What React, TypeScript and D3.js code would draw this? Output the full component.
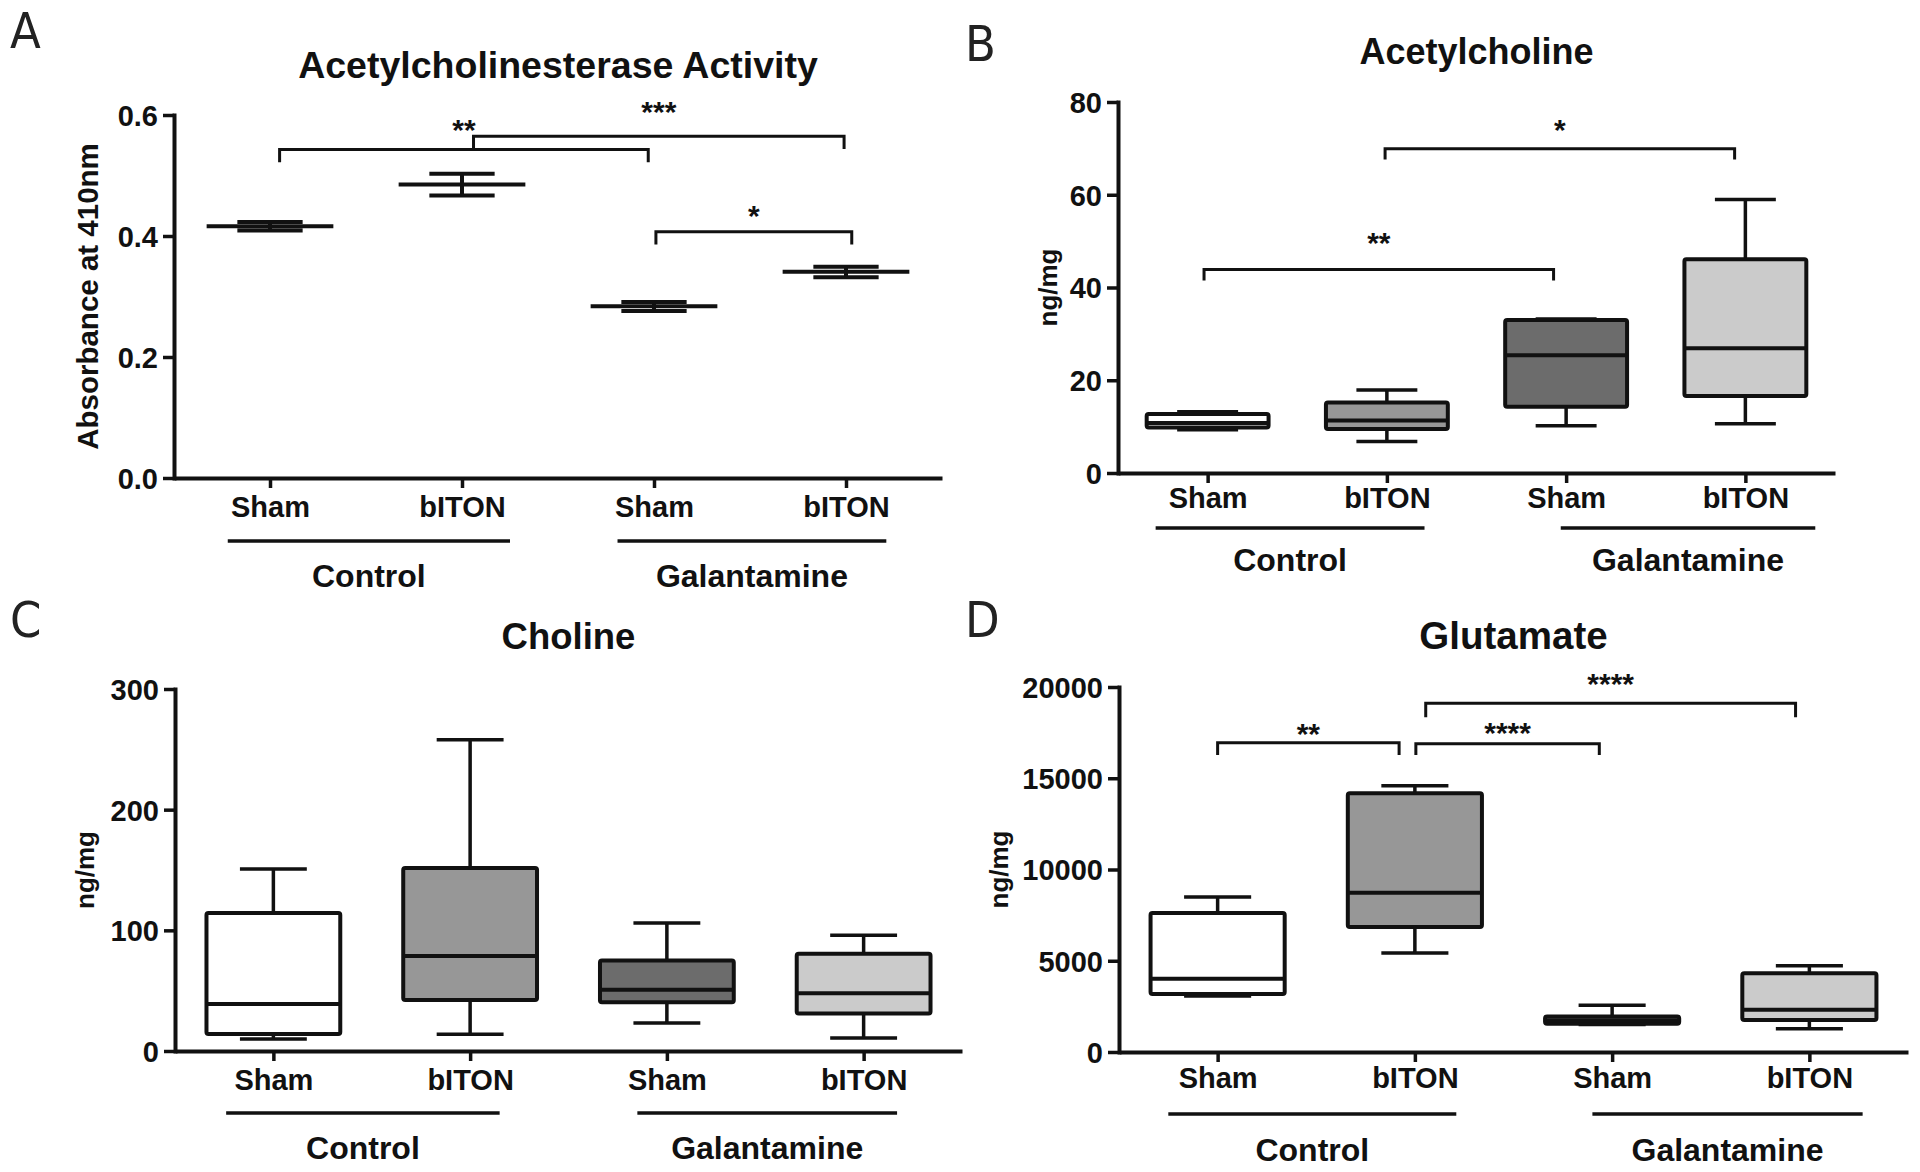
import { useEffect, useRef } from 'react';
import * as d3 from 'd3';

// ---- data ----
const conditions = ['Control Sham', 'Control bITON', 'Galantamine Sham', 'Galantamine bITON'];
const conditionLabels = ['Sham', 'bITON', 'Sham', 'bITON'];
const treatments = ['Control', 'Galantamine'];
const boxFills = ['#ffffff', '#979797', '#6c6c6c', '#cbcbcb'];

// A: acetylcholinesterase activity, mean with error bars
const acheMean = [0.416, 0.485, 0.284, 0.341];
const acheLow = [0.409, 0.467, 0.276, 0.332];
const acheHigh = [0.423, 0.503, 0.291, 0.349];
const acheTicks = [0, 0.2, 0.4, 0.6];

// B: acetylcholine (box plots)
const achWhiskerLow = [9.3, 6.8, 10.2, 10.6];
const achQ1 = [9.8, 9.5, 14.3, 16.6];
const achMedian = [10.8, 11.3, 25.4, 26.9];
const achQ3 = [12.7, 15.2, 33.0, 46.1];
const achWhiskerHigh = [13.2, 17.9, 33.2, 59.0];
const achTicks = [0, 20, 40, 60, 80];

// C: choline
const cholWhiskerLow = [9.9, 13.8, 23.3, 10.8];
const cholQ1 = [14.1, 42.3, 40.5, 31.0];
const cholMedian = [38.9, 78.7, 50.7, 47.8];
const cholQ3 = [114.4, 151.7, 75.0, 80.6];
const cholWhiskerHigh = [150.8, 258, 106, 96];
const cholTicks = [0, 100, 200, 300];

// D: glutamate
const gluWhiskerLow = [3070, 5430, 1510, 1270];
const gluQ1 = [3180, 6850, 1550, 1750];
const gluMedian = [4010, 8720, 1720, 2310];
const gluQ3 = [7610, 14180, 1940, 4320];
const gluWhiskerHigh = [8500, 14590, 2560, 4720];
const gluTicks = [0, 5000, 10000, 15000, 20000];

type Bracket = { from: number; to: number; y: number; tip: number; labelY: number; label: string; padL?: number; padR?: number };

const acheBrackets: Bracket[] = [
  { from: 0, to: 2, y: 0.543, tip: 0.522, labelY: 0.585, label: '**', padL: 0.05, padR: -0.03 },
  { from: 1, to: 3, y: 0.565, tip: 0.544, labelY: 0.615, label: '***', padL: 0.06, padR: -0.01 },
  { from: 2, to: 3, y: 0.407, tip: 0.386, labelY: 0.443, label: '*', padL: 0.01, padR: 0.03 },
];
const achBrackets: Bracket[] = [
  { from: 0, to: 2, y: 43.9, tip: 41.5, labelY: 50.9, label: '**', padL: -0.02, padR: -0.07 },
  { from: 1, to: 3, y: 69.9, tip: 67.6, labelY: 75.3, label: '*', padL: -0.01, padR: -0.06 },
];
const gluBrackets: Bracket[] = [
  { from: 0, to: 1, y: 16950, tip: 16270, labelY: 17750, label: '**', padL: 0, padR: -0.08 },
  { from: 1, to: 2, y: 16890, tip: 16270, labelY: 17824, label: '****', padL: 0.005, padR: -0.065 },
  { from: 1, to: 3, y: 19110, tip: 18340, labelY: 20518, label: '****', padL: 0.055, padR: -0.07 },
];

const FONT = "'Liberation Sans', Arial, Helvetica, sans-serif";
const INK = '#111111';

interface Panel {
  letter: string;
  letterX: number;
  letterY: number;
  title: string;
  titleY: number;
  titleSize: number;
  yLabel: string;
  yLabelX: number;
  yLabelSize: number;
  left: number;
  right: number;
  top: number;
  bottom: number;
  domain: [number, number];
  ticks: number[];
  fmt: (d: number) => string;
  tickLabelDy: number;
  groupLineDy: number;
  groupLabelDy: number;
  groupLines: [number, number][];
  brackets: Bracket[];
  mean?: { mean: number[]; low: number[]; high: number[] };
  box?: { wl: number[]; q1: number[]; med: number[]; q3: number[]; wh: number[] };
}

function drawPanel(svg: d3.Selection<SVGSVGElement, unknown, null, undefined>, p: Panel) {
  const g = svg.append('g');
  const x = d3.scalePoint<string>().domain(conditions).range([p.left, p.right]).padding(0.5);
  const y = d3.scaleLinear().domain(p.domain).range([p.bottom, p.top]);
  const step = x.step();
  const cx = (i: number) => x(conditions[i]) as number;

  // panel letter
  g.append('text')
    .attr('x', p.letterX)
    .attr('y', p.letterY)
    .attr('font-family', "'Liberation Sans Narrow', 'DejaVu Sans Condensed', sans-serif")
    .attr('font-size', 50)
    .attr('fill', '#222')
    .text(p.letter);

  // title
  g.append('text')
    .attr('x', (p.left + p.right) / 2)
    .attr('y', p.titleY)
    .attr('text-anchor', 'middle')
    .attr('font-family', FONT)
    .attr('font-weight', 'bold')
    .attr('font-size', p.titleSize)
    .attr('fill', INK)
    .text(p.title);

  // y label
  g.append('text')
    .attr('transform', `translate(${p.yLabelX},${(p.top + p.bottom) / 2}) rotate(-90)`)
    .attr('text-anchor', 'middle')
    .attr('dominant-baseline', 'central')
    .attr('font-family', FONT)
    .attr('font-weight', 'bold')
    .attr('font-size', p.yLabelSize)
    .attr('fill', INK)
    .text(p.yLabel);

  // axes
  const yAxis = g.append('g')
    .attr('transform', `translate(${p.left},0)`)
    .call(d3.axisLeft(y).tickValues(p.ticks).tickFormat((d) => p.fmt(d as number)).tickSize(11).tickSizeOuter(0).tickPadding(5));
  const xAxis = g.append('g')
    .attr('transform', `translate(0,${p.bottom})`)
    .call(d3.axisBottom(x).tickFormat((_, i) => conditionLabels[i]).tickSize(10).tickSizeOuter(0));

  [yAxis, xAxis].forEach((a) => {
    a.selectAll('.domain').attr('stroke', INK).attr('stroke-width', 4);
    a.selectAll('.tick line').attr('stroke', INK).attr('stroke-width', 3.5);
    a.selectAll('text')
      .attr('font-family', FONT)
      .attr('font-weight', 'bold')
      .attr('font-size', 29)
      .attr('fill', INK);
  });
  xAxis.selectAll('text').attr('y', p.tickLabelDy).attr('dy', 0);
  yAxis.selectAll('text').attr('dy', '0.36em');
  yAxis.select('.domain').attr('stroke-linecap', 'square');

  // group lines and labels
  treatments.forEach((t, k) => {
    const a = cx(k * 2) + p.groupLines[k][0] * step;
    const b = cx(k * 2 + 1) + p.groupLines[k][1] * step;
    g.append('line')
      .attr('x1', a).attr('x2', b)
      .attr('y1', p.bottom + p.groupLineDy).attr('y2', p.bottom + p.groupLineDy)
      .attr('stroke', INK).attr('stroke-width', 3.5);
    g.append('text')
      .attr('x', (a + b) / 2)
      .attr('y', p.bottom + p.groupLabelDy)
      .attr('text-anchor', 'middle')
      .attr('font-family', FONT)
      .attr('font-weight', 'bold')
      .attr('font-size', 32)
      .attr('fill', INK)
      .text(t);
  });

  const marks = g.append('g').attr('stroke', INK).attr('fill', 'none');

  if (p.box) {
    const b = p.box;
    conditions.forEach((_, i) => {
      const c = cx(i);
      const hw = 0.34 * step;
      const cw = 0.17 * step;
      // whiskers
      marks.append('path')
        .attr('d', `M${c},${y(b.q3[i])}V${y(b.wh[i])}M${c - cw},${y(b.wh[i])}H${c + cw}M${c},${y(b.q1[i])}V${y(b.wl[i])}M${c - cw},${y(b.wl[i])}H${c + cw}`)
        .attr('stroke-width', 3.5);
      // box
      marks.append('rect')
        .attr('x', c - hw)
        .attr('y', y(b.q3[i]))
        .attr('width', 2 * hw)
        .attr('height', y(b.q1[i]) - y(b.q3[i]))
        .attr('rx', 2)
        .attr('fill', boxFills[i])
        .attr('stroke-width', 4);
      // median
      marks.append('line')
        .attr('x1', c - hw).attr('x2', c + hw)
        .attr('y1', y(b.med[i])).attr('y2', y(b.med[i]))
        .attr('stroke-width', 4);
    });
  }

  if (p.mean) {
    const m = p.mean;
    conditions.forEach((_, i) => {
      const c = cx(i);
      const mw = 0.33 * step;
      const cw = 0.17 * step;
      marks.append('path')
        .attr('d', `M${c},${y(m.low[i])}V${y(m.high[i])}M${c - cw},${y(m.low[i])}H${c + cw}M${c - cw},${y(m.high[i])}H${c + cw}M${c - mw},${y(m.mean[i])}H${c + mw}`)
        .attr('stroke-width', 4);
    });
  }

  // significance brackets
  p.brackets.forEach((br) => {
    const a = cx(br.from) + (br.padL ?? 0) * step;
    const b = cx(br.to) + (br.padR ?? 0) * step;
    marks.append('path')
      .attr('d', `M${a},${y(br.tip)}V${y(br.y)}H${b}V${y(br.tip)}`)
      .attr('stroke-width', 3);
    g.append('text')
      .attr('x', (a + b) / 2)
      .attr('y', y(br.labelY) + 16)
      .attr('text-anchor', 'middle')
      .attr('font-family', FONT)
      .attr('font-weight', 'bold')
      .attr('font-size', 30)
      .attr('fill', INK)
      .text(br.label);
  });
}

const panels: Panel[] = [
  {
    letter: 'A', letterX: 10, letterY: 48,
    title: 'Acetylcholinesterase Activity', titleY: 78, titleSize: 37.5,
    yLabel: 'Absorbance at 410nm', yLabelX: 87, yLabelSize: 29.5,
    left: 174, right: 942, top: 115, bottom: 478,
    domain: [0, 0.6], ticks: acheTicks, fmt: d3.format('.1f'),
    tickLabelDy: 39, groupLineDy: 63, groupLabelDy: 109,
    groupLines: [[-0.22, 0.25], [-0.19, 0.21]],
    brackets: acheBrackets,
    mean: { mean: acheMean, low: acheLow, high: acheHigh },
  },
  {
    letter: 'B', letterX: 965, letterY: 61,
    title: 'Acetylcholine', titleY: 64, titleSize: 36,
    yLabel: 'ng/mg', yLabelX: 1048, yLabelSize: 26,
    left: 1118, right: 1835, top: 102, bottom: 473,
    domain: [0, 80], ticks: achTicks, fmt: d3.format('d'),
    tickLabelDy: 35, groupLineDy: 55, groupLabelDy: 98,
    groupLines: [[-0.29, 0.21], [-0.03, 0.39]],
    brackets: achBrackets,
    box: { wl: achWhiskerLow, q1: achQ1, med: achMedian, q3: achQ3, wh: achWhiskerHigh },
  },
  {
    letter: 'C', letterX: 10, letterY: 637,
    title: 'Choline', titleY: 649, titleSize: 36.5,
    yLabel: 'ng/mg', yLabelX: 85, yLabelSize: 26,
    left: 175, right: 962, top: 689, bottom: 1051,
    domain: [0, 300], ticks: cholTicks, fmt: d3.format('d'),
    tickLabelDy: 39, groupLineDy: 62, groupLabelDy: 108,
    groupLines: [[-0.24, 0.15], [-0.15, 0.17]],
    brackets: [],
    box: { wl: cholWhiskerLow, q1: cholQ1, med: cholMedian, q3: cholQ3, wh: cholWhiskerHigh },
  },
  {
    letter: 'D', letterX: 965, letterY: 637,
    title: 'Glutamate', titleY: 649, titleSize: 38.5,
    yLabel: 'ng/mg', yLabelX: 999, yLabelSize: 26,
    left: 1119, right: 1908, top: 687, bottom: 1052,
    domain: [0, 20000], ticks: gluTicks, fmt: d3.format('d'),
    tickLabelDy: 36, groupLineDy: 62, groupLabelDy: 109,
    groupLines: [[-0.25, 0.21], [-0.10, 0.27]],
    brackets: gluBrackets,
    box: { wl: gluWhiskerLow, q1: gluQ1, med: gluMedian, q3: gluQ3, wh: gluWhiskerHigh },
  },
];

export default function App(): JSX.Element {
  const svgRef = useRef<SVGSVGElement>(null);

  useEffect(() => {
    if (!svgRef.current) return;
    const svg = d3.select(svgRef.current);
    svg.selectAll('*').remove();
    svg.append('rect').attr('width', 1920).attr('height', 1172).attr('fill', '#ffffff');
    panels.forEach((p) => drawPanel(svg, p));
  }, []);

  return (
    <svg
      ref={svgRef}
      width={1920}
      height={1172}
      style={{ position: 'absolute', left: 0, top: 0, display: 'block' }}
    />
  );
}
